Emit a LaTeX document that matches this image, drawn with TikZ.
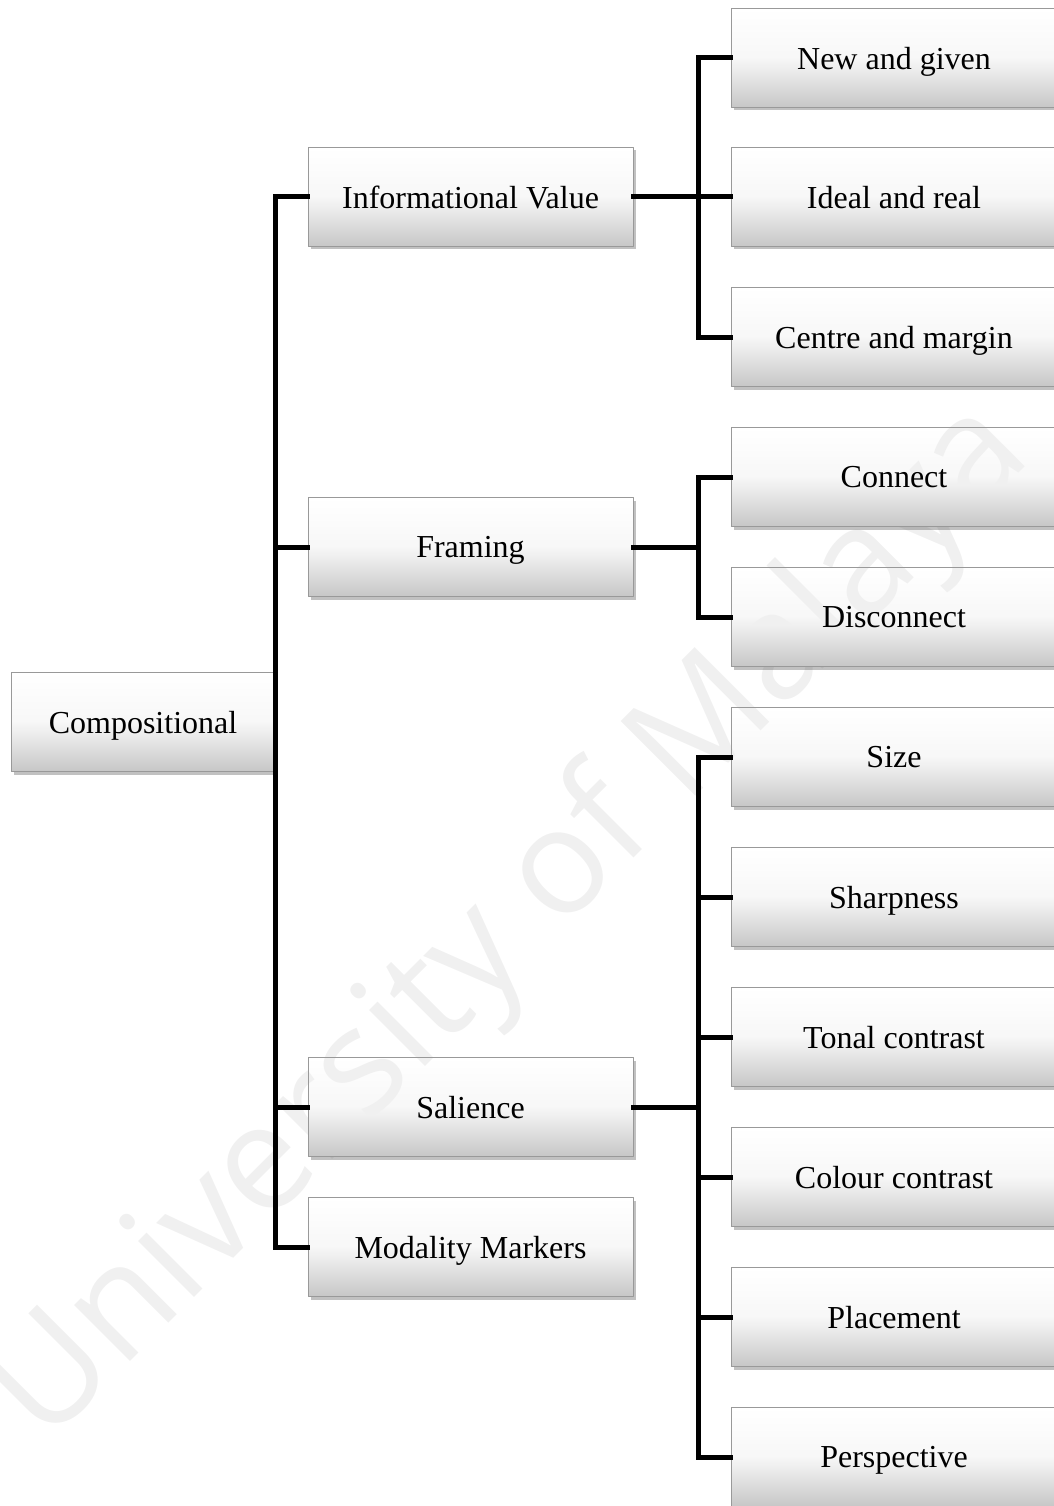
\documentclass[tikz,border=0pt]{standalone}
\usepackage{fontspec}
\setmainfont{Liberation Serif}
\newfontfamily\markfont{Open Sans}
\usepackage{tikz}
\usetikzlibrary{shadows}

\begin{document}
\begin{tikzpicture}[x=1pt, y=-1pt, line cap=round, line join=round,
  box/.style={draw=black!40, line width=0.8pt, top color=white, bottom color=black!22,
    middle color=black!3, minimum width=325pt, minimum height=99pt, inner sep=0pt,
    text depth=0pt, font=\fontsize{32}{38}\selectfont,
    drop shadow={shadow xshift=3pt, shadow yshift=-3pt, opacity=0.35, fill=black!70}},
  link/.style={line width=5pt, line cap=rect, line join=miter}]

  \def\xa{143}     % centre of the root box
  \def\xb{470.5}   % centre of the second column
  \def\xc{894}     % centre of the third column
  \def\stub{65}    % length of the stub after a second-column box

  \useasboundingbox (0,0) rectangle (1053,1506);

  % Root
  \node[box, minimum width=264pt] (comp) at (\xa,722) {Compositional};

  % Second column
  \node[box] (info)  at (\xb,197)  {Informational Value};
  \node[box] (frame) at (\xb,547)  {Framing};
  \node[box] (sal)   at (\xb,1107) {Salience};
  \node[box] (modal) at (\xb,1247) {Modality Markers};

  % Third column: informational value
  \node[box, minimum width=326pt] (newgiven) at (\xc,58)  {New and given};
  \node[box, minimum width=326pt] (ideal)    at (\xc,197) {Ideal and real};
  \node[box, minimum width=326pt] (centre)   at (\xc,337) {Centre and margin};

  % Third column: framing
  \node[box, minimum width=326pt] (conn)    at (\xc,477) {Connect};
  \node[box, minimum width=326pt] (disconn) at (\xc,617) {Disconnect};

  % Third column: salience
  \node[box, minimum width=326pt] (size)   at (\xc,757)  {Size};
  \node[box, minimum width=326pt] (sharp)  at (\xc,897)  {Sharpness};
  \node[box, minimum width=326pt] (tonal)  at (\xc,1037) {Tonal contrast};
  \node[box, minimum width=326pt] (colour) at (\xc,1177) {Colour contrast};
  \node[box, minimum width=326pt] (place)  at (\xc,1317) {Placement};
  \node[box, minimum width=326pt] (persp)  at (\xc,1457) {Perspective};

  % Root to second column
  \draw[link] (comp.east) |- (info.west);
  \draw[link] (comp.east) |- (frame.west);
  \draw[link] (comp.east) |- (sal.west);
  \draw[link] (comp.east) |- (modal.west);

  % Second to third column
  \draw[link] (info.east) -- ++(\stub,0) |- (newgiven.west);
  \draw[link] (info.east) -- (ideal.west);
  \draw[link] (info.east) -- ++(\stub,0) |- (centre.west);

  \draw[link] (frame.east) -- ++(\stub,0) |- (conn.west);
  \draw[link] (frame.east) -- ++(\stub,0) |- (disconn.west);

  \draw[link] (sal.east) -- ++(\stub,0) |- (size.west);
  \draw[link] (sal.east) -- ++(\stub,0) |- (sharp.west);
  \draw[link] (sal.east) -- ++(\stub,0) |- (tonal.west);
  \draw[link] (sal.east) -- ++(\stub,0) |- (colour.west);
  \draw[link] (sal.east) -- ++(\stub,0) |- (place.west);
  \draw[link] (sal.east) -- ++(\stub,0) |- (persp.west);

  % Watermark
  \begin{scope}[blend mode=darken]
    \node[rotate=45, text=black!6, font=\markfont\fontsize{148}{170}\selectfont]
      (wmark) at (512,925) {University of Malaya};
  \end{scope}

\end{tikzpicture}
\end{document}
